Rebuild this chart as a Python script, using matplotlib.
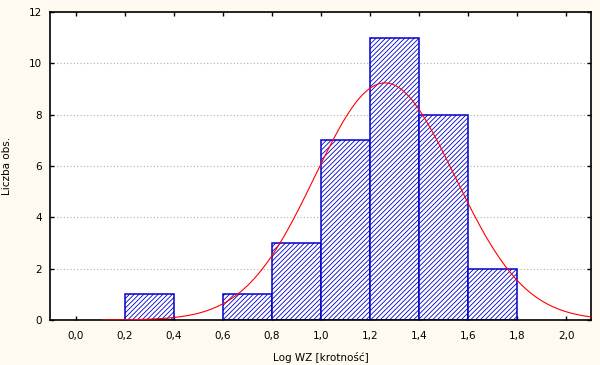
import numpy as np
import matplotlib
matplotlib.use("Agg")
import matplotlib.pyplot as plt

# histogram bins (left edges) and counts
bin_left = [0.0, 0.2, 0.4, 0.6, 0.8, 1.0, 1.2, 1.4, 1.6]
counts = [0, 1, 0, 1, 3, 7, 11, 8, 2]
bin_width = 0.2

# fitted normal curve parameters
mean = 1.26
sd = 0.285
curve_start = 0.11
curve_end = 2.1

xticks = [0.0, 0.2, 0.4, 0.6, 0.8, 1.0, 1.2, 1.4, 1.6, 1.8, 2.0]
yticks = [0, 2, 4, 6, 8, 10, 12]

plt.rcParams['hatch.linewidth'] = 0.6

fig = plt.figure(figsize=(6, 3.65), dpi=100, facecolor='#fffaf0')
ax = fig.add_axes([0.0833, 0.1233, 0.9017, 0.8437])
ax.set_facecolor('white')

# only bins with observations get a bar
left_nz = [b for b, c in zip(bin_left, counts) if c > 0]
count_nz = [c for c in counts if c > 0]
ax.bar(left_nz, count_nz, width=bin_width, align='edge', color='white',
       edgecolor='#0000cc', linewidth=1.1, hatch='///////', zorder=2)

n = sum(counts)
xs = np.linspace(curve_start, curve_end, 300)
ys = n * bin_width / (sd * np.sqrt(2 * np.pi)) * np.exp(-0.5 * ((xs - mean) / sd) ** 2)
ax.plot(xs, ys, color='red', linewidth=0.8, zorder=3)

ax.set_xlim(-0.105, 2.1)
ax.set_ylim(0, 12)
ax.set_xticks(xticks)
ax.set_xticklabels([f"{v:.1f}".replace('.', ',') for v in xticks])
ax.set_yticks(yticks)
ax.yaxis.grid(True, linestyle=(0, (1, 2)), color='#b0b0b0', linewidth=0.8, zorder=0)
ax.set_axisbelow(True)
ax.tick_params(direction='in', top=True, right=True, labelsize=7.5, length=3, width=1)
ax.tick_params(axis='y', pad=6)
ax.tick_params(axis='x', pad=8)
for s in ax.spines.values():
    s.set_linewidth(1.2)

ax.set_xlabel("Log WZ [krotność]", fontsize=7.5, labelpad=8)
ax.set_ylabel("Liczba obs.", fontsize=7.5, labelpad=12)

fig.savefig("out.png", dpi=100, facecolor=fig.get_facecolor())
